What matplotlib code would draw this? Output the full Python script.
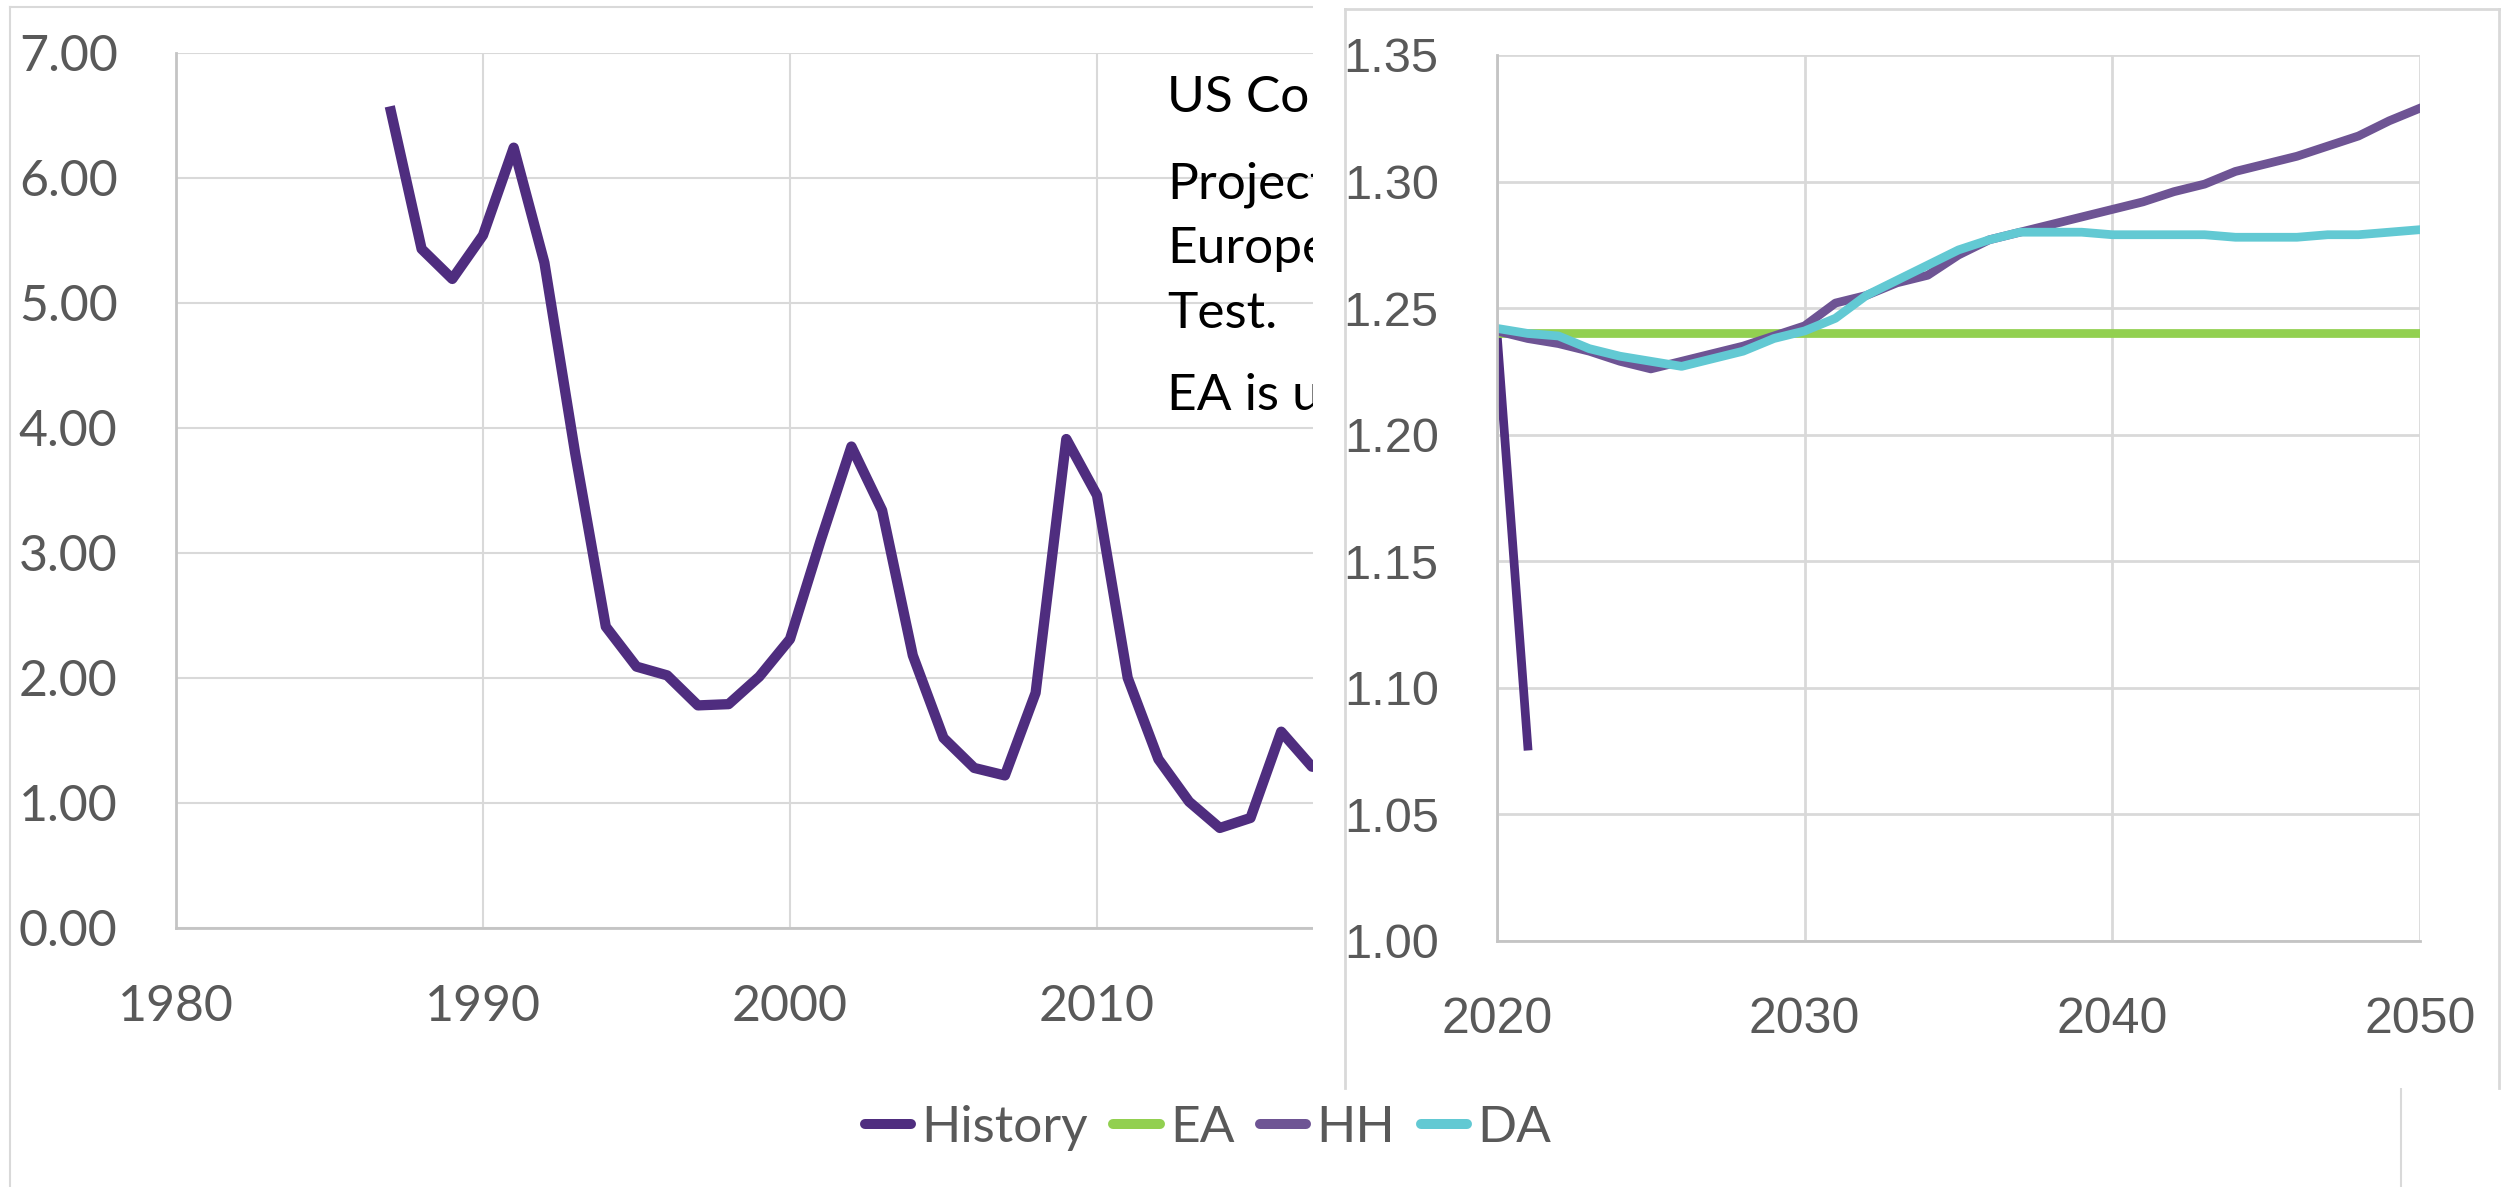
import matplotlib.pyplot as plt
from matplotlib.lines import Line2D
from matplotlib.patches import Rectangle

W, H = 2509, 1187

# history, 1987-2017, 2020-2021 off the zoomed one
hist_years = [1987, 1988, 1989, 1990, 1991, 1992, 1993, 1994, 1995, 1996,
              1997, 1998, 1999, 2000, 2001, 2002, 2003, 2004, 2005, 2006,
              2007, 2008, 2009, 2010, 2011, 2012, 2013, 2014, 2015, 2016,
              2017, 2020, 2021]
hist_values = [6.53, 5.43, 5.19, 5.54, 6.24, 5.32, 3.80, 2.41, 2.09, 2.02,
               1.78, 1.79, 2.01, 2.31, 3.10, 3.85, 3.34, 2.18, 1.52, 1.28,
               1.22, 1.88, 3.91, 3.46, 2.00, 1.35, 1.01, 0.80, 0.88, 1.57,
               1.29, 1.240, 1.077]

proj_years = list(range(2020, 2051))
ea = [1.240, 1.240, 1.240, 1.240, 1.240, 1.240, 1.240, 1.240, 1.240, 1.240,
      1.240, 1.240, 1.240, 1.240, 1.240, 1.240, 1.240, 1.240, 1.240, 1.240,
      1.240, 1.240, 1.240, 1.240, 1.240, 1.240, 1.240, 1.240, 1.240, 1.240,
      1.240]
hh = [1.241, 1.238, 1.236, 1.233, 1.229, 1.226, 1.229, 1.232, 1.235, 1.239,
      1.243, 1.252, 1.255, 1.260, 1.263, 1.271, 1.277, 1.280, 1.283, 1.286,
      1.289, 1.292, 1.296, 1.299, 1.304, 1.307, 1.310, 1.314, 1.318, 1.324,
      1.329]
da = [1.242, 1.240, 1.239, 1.234, 1.231, 1.229, 1.227, 1.230, 1.233, 1.238,
      1.241, 1.246, 1.255, 1.261, 1.267, 1.273, 1.277, 1.280, 1.280, 1.280,
      1.279, 1.279, 1.279, 1.279, 1.278, 1.278, 1.278, 1.279, 1.279, 1.280,
      1.281]

labels = ['History', 'EA', 'HH', 'DA']
colors = ['#4f2d7f', '#92d050', '#6e5494', '#62c9d3']

note_lines = [('US Co', 112), ('Project', 198), ('Europe', 263),
              ('Test.', 328), ('EA is u', 410)]

grid_c = '#d9d9d9'
spine_c = '#c4c4c4'
tick_c = '#595959'
font = 'Lato'
font2 = 'Liberation Sans'


def box(x0, y0, x1, y1):
    return [x0 / W, 1 - y1 / H, (x1 - x0) / W, (y1 - y0) / H]


def fig_line(x, y, **kw):
    fig.add_artist(Line2D([v / W for v in x], [1 - v / H for v in y],
                          transform=fig.transFigure, **kw))


fig = plt.figure(figsize=(W / 100, H / 100), dpi=100)

# ---- long chart (left panel), only the part left of the pasted panel ----
ax = fig.add_axes(box(176, 52.6, 1313, 928))
ax.plot(hist_years, hist_values, color=colors[0], lw=7.4)
ax.set_xlim(1980, 1980 + (1313 - 176) / 30.7)
ax.set_ylim(0, 7)
ax.set_xticks(range(1980, 2011, 10))
ax.set_yticks(range(0, 8))
ax.set_yticklabels(['%.2f' % v for v in range(0, 8)])
ax.grid(True, color=grid_c, lw=1.5)
ax.set_axisbelow(True)
for s in ['top', 'right']:
    ax.spines[s].set_visible(False)
for s in ['left', 'bottom']:
    ax.spines[s].set_color(spine_c)
    ax.spines[s].set_linewidth(2)
ax.tick_params(axis='y', length=0, pad=42, labelsize=36, labelcolor=tick_c)
ax.tick_params(axis='x', length=0, pad=40, labelsize=36, labelcolor=tick_c)
for t in ax.get_xticklabels() + ax.get_yticklabels():
    t.set_fontfamily(font)

for txt, yb in note_lines:
    fig.text(1167 / W, 1 - yb / H, txt, fontsize=37, family=font,
             color='black', va='baseline', ha='left')

handles = [Line2D([], [], color=c, lw=7.2, solid_capstyle='round') for c in colors]
leg = fig.legend(handles, labels, loc='center', bbox_to_anchor=(1208 / W, 1 - 1128 / H),
                 ncol=4, frameon=False, handlelength=0.9, handletextpad=0.2,
                 columnspacing=0.5, prop={'family': font, 'size': 37})
for t in leg.get_texts():
    t.set_color(tick_c)

# left panel frame
fig_line([10, 10], [H, 6.5], color=grid_c, lw=1.5, zorder=1)
fig_line([10, 2401], [6.5, 6.5], color=grid_c, lw=1.5, zorder=1)
fig_line([2401, 2401], [6.5, H], color=grid_c, lw=1.5, zorder=1)

# ---- zoomed chart (right panel, pasted on top) ----
fig.add_artist(Rectangle((1313 / W, 1 - 1088 / H), (W - 1313) / W, 1088 / H,
                         transform=fig.transFigure, facecolor='white',
                         edgecolor='none', zorder=8))
fig_line([1345, 1345], [1088, 9], color=grid_c, lw=2, zorder=9)
fig_line([1345, 2499], [9, 9], color=grid_c, lw=2, zorder=9)
fig_line([2499, 2499], [9, 1088], color=grid_c, lw=2, zorder=9)

ax2 = fig.add_axes(box(1497, 55, 2420, 941))
ax2.set_zorder(10)
ax2.plot(hist_years, hist_values, color=colors[0], lw=6.3)
ax2.plot(proj_years, ea, color=colors[1], lw=6.3)
ax2.plot(proj_years, hh, color=colors[2], lw=6.3)
ax2.plot(proj_years, da, color=colors[3], lw=6.3)
ax2.set_xlim(2020, 2050)
ax2.set_ylim(1.0, 1.35)
ax2.set_xticks(range(2020, 2051, 10))
y2 = [1.00, 1.05, 1.10, 1.15, 1.20, 1.25, 1.30, 1.35]
ax2.set_yticks(y2)
ax2.set_yticklabels(['%.2f' % v for v in y2])
ax2.grid(True, color=grid_c, lw=2)
ax2.set_axisbelow(True)
for s in ['top', 'right']:
    ax2.spines[s].set_visible(False)
for s in ['left', 'bottom']:
    ax2.spines[s].set_color(spine_c)
    ax2.spines[s].set_linewidth(2)
ax2.tick_params(axis='y', length=0, pad=42, labelsize=35, labelcolor=tick_c)
ax2.tick_params(axis='x', length=0, pad=40, labelsize=36, labelcolor=tick_c)
for t in ax2.get_xticklabels() + ax2.get_yticklabels():
    t.set_fontfamily(font2)

fig.savefig('out.png', dpi=100, facecolor='white')
